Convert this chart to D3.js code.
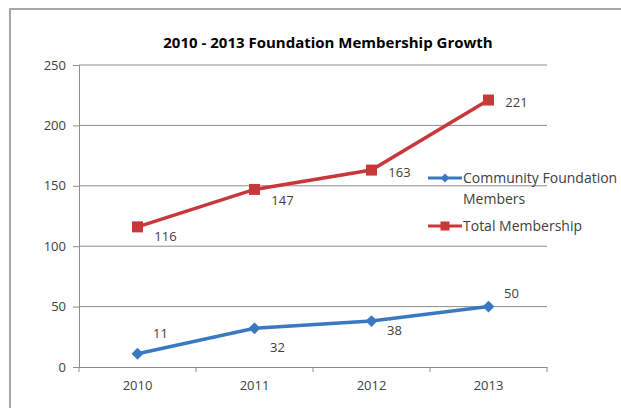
<!DOCTYPE html>
<html>
<head>
<meta charset="utf-8">
<script src="https://cdn.jsdelivr.net/npm/d3@7"></script>
<style>
  body { margin: 0; background: #fff; }
  text { font-family: "Open Sans", "Liberation Sans", sans-serif; fill: #404040; }
</style>
</head>
<body>
<svg width="621" height="408"></svg>
<script>
let years = ["2010", "2011", "2012", "2013"];
let community = [11, 32, 38, 50];
let total = [116, 147, 163, 221];
let yTicks = [0, 50, 100, 150, 200, 250];
let seriesNames = ["Community Foundation Members", "Total Membership"];

// label nudges (px) per point, Excel-style manual placement
let communityLabelDy = [-20, 19, 9, -13];
let totalLabelDy = [10, 11, 2, 2];

let svg = d3.select("svg");

// outer chart frame
svg.append("rect")
  .attr("x", 10).attr("y", 9)
  .attr("width", 640).attr("height", 420)
  .attr("fill", "none").attr("stroke", "#a6a6a6").attr("stroke-width", 2);

let xScale = d3.scaleBand().domain(years).range([79, 547]);
let yScale = d3.scaleLinear().domain([0, 250]).range([367, 65]);

svg.append("text")
  .attr("x", 328).attr("y", 48)
  .attr("text-anchor", "middle")
  .style("font-size", "15px").style("font-weight", "bold")
  .style("fill", "#000")
  .text("2010  - 2013  Foundation Membership Growth");

// gridlines
svg.append("g").selectAll("line")
  .data(yTicks.filter(d => d > 0))
  .join("line")
  .attr("x1", 79).attr("x2", 547)
  .attr("y1", d => yScale(d)).attr("y2", d => yScale(d))
  .attr("stroke", "#8c8c8c").attr("stroke-width", 1);

let yAxis = svg.append("g")
  .attr("transform", "translate(79,0)")
  .call(d3.axisLeft(yScale).tickValues(yTicks).tickSize(6).tickPadding(7));

let xAxis = svg.append("g")
  .attr("transform", "translate(0,367)")
  .call(d3.axisBottom(xScale).tickSize(0).tickPadding(14));

// band boundary ticks on the x axis
svg.append("g").selectAll("line")
  .data(years.map(d => xScale(d)).concat([xScale.range()[1]]))
  .join("line")
  .attr("x1", d => d).attr("x2", d => d)
  .attr("y1", 367).attr("y2", 372)
  .attr("stroke", "#8c8c8c");

[yAxis, xAxis].forEach(ax => {
  ax.select(".domain").attr("stroke", "#8c8c8c");
  ax.selectAll(".tick line").attr("stroke", "#8c8c8c");
  ax.selectAll("text").style("font-size", "13px").style("font-family", "'Open Sans', 'Liberation Sans', sans-serif").attr("fill", "#404040");
});

let colors = ["#3b78c2", "#c8383a"];
let cx = d => xScale(d) + xScale.bandwidth() / 2;

let line = d3.line()
  .x((d, i) => cx(years[i]))
  .y(d => yScale(d));

[community, total].forEach((vals, s) => {
  svg.append("path")
    .datum(vals)
    .attr("d", line)
    .attr("fill", "none")
    .attr("stroke", colors[s])
    .attr("stroke-width", 3.5);
});

// markers
svg.append("g").selectAll("path")
  .data(community)
  .join("path")
  .attr("transform", (d, i) => `translate(${cx(years[i])},${yScale(d)})`)
  .attr("d", d3.symbol().type(d3.symbolDiamond2).size(90))
  .attr("fill", colors[0]);

svg.append("g").selectAll("rect")
  .data(total)
  .join("rect")
  .attr("x", (d, i) => cx(years[i]) - 5.5)
  .attr("y", d => yScale(d) - 5.5)
  .attr("width", 11).attr("height", 11)
  .attr("fill", colors[1]);

// data labels
svg.append("g").selectAll("text")
  .data(community)
  .join("text")
  .attr("x", (d, i) => cx(years[i]) + 23)
  .attr("y", (d, i) => yScale(d) + communityLabelDy[i])
  .attr("dy", "0.35em")
  .attr("text-anchor", "middle")
  .style("font-size", "13px")
  .text(d => d);

svg.append("g").selectAll("text")
  .data(total)
  .join("text")
  .attr("x", (d, i) => cx(years[i]) + 28)
  .attr("y", (d, i) => yScale(d) + totalLabelDy[i])
  .attr("dy", "0.35em")
  .attr("text-anchor", "middle")
  .style("font-size", "13px")
  .text(d => d);

// legend
let legend = svg.append("g").attr("transform", "translate(428,0)");
let legendY = [178, 226];
seriesNames.forEach((name, s) => {
  let g = legend.append("g").attr("transform", `translate(0,${legendY[s]})`);
  g.append("line").attr("x1", 0).attr("x2", 34).attr("y1", 0).attr("y2", 0)
    .attr("stroke", colors[s]).attr("stroke-width", 3);
  if (s === 0) {
    g.append("path").attr("transform", "translate(17,0)")
      .attr("d", d3.symbol().type(d3.symbolDiamond2).size(50)).attr("fill", colors[s]);
  } else {
    g.append("rect").attr("x", 12.5).attr("y", -4.5).attr("width", 9).attr("height", 9).attr("fill", colors[s]);
  }
  let t = g.append("text").attr("x", 35).attr("y", 0).attr("dy", "0.35em").style("font-size", "14px");
  if (s === 0) {
    t.text("Community Foundation");
    g.append("text").attr("x", 35).attr("y", 21).attr("dy", "0.35em").style("font-size", "14px").text("Members");
  } else {
    t.text(name);
  }
});
</script>
</body>
</html>
